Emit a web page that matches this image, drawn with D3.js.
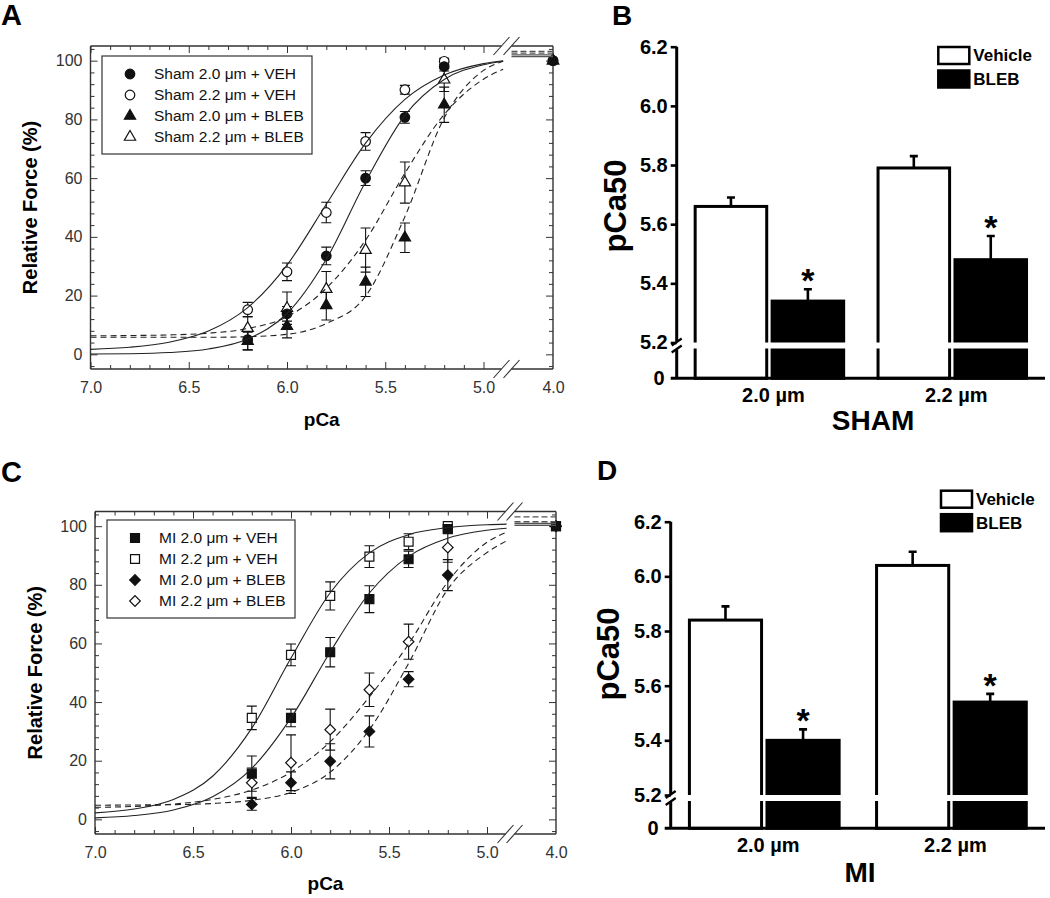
<!DOCTYPE html>
<html>
<head>
<meta charset="utf-8">
<title>Relative force and pCa50</title>
<script src="https://cdn.jsdelivr.net/npm/d3@7"></script>
<style>
  body { margin: 0; background: #fff; }
  svg { display: block; font-family: "Liberation Sans", Arial, sans-serif; }
</style>
</head>
<body>
<svg id="figure" width="1050" height="898"></svg>
<script>
// ---- data ----
const pCaLevels = [6.2, 6.0, 5.8, 5.6, 5.4, 5.2, 4.0];

// Panel A: Sham, relative force (%)
const shamVeh20 = [5, 13.8, 33.5, 60, 80.7, 98, 100];
const shamVeh20Err = [3.5, 2.5, 3, 2.5, 2, 1.5, 0];
const shamVeh22 = [15.2, 28.1, 48.3, 72.5, 90.1, 99.8, 100];
const shamVeh22Err = [2.5, 3, 3.5, 3, 1.5, 1, 0];
const shamBleb20 = [4.5, 9.6, 16.7, 24.7, 39.7, 85, 100];
const shamBleb20Err = [3, 4, 5, 5, 5, 6, 0];
const shamBleb22 = [8.9, 15.7, 22.2, 35.5, 58.5, 93.5, 100];
const shamBleb22Err = [4, 5.5, 6, 7.5, 7, 4, 0];

// Panel C: MI, relative force (%)
const miVeh20 = [15.6, 34.6, 57, 75.1, 88.7, 99, 100];
const miVeh20Err = [6, 3, 5, 4.6, 2.8, 1, 0];
const miVeh22 = [34.6, 56.1, 76.2, 89.6, 94.7, 100, 100];
const miVeh22Err = [4, 3.7, 4.8, 3.7, 2.7, 0.5, 0];
const miBleb20 = [5.1, 12.5, 19.8, 30, 47.8, 83.3, 100];
const miBleb20Err = [2, 3.7, 6, 5.3, 2.6, 5.3, 0];
const miBleb22 = [12.5, 19.3, 30.6, 44.2, 60.6, 92.7, 100];
const miBleb22Err = [5, 9.5, 7, 5.7, 6, 5, 0];

// fitted curves as drawn in the figure
const fitPCa = [7.0, 6.8, 6.6, 6.4, 6.2, 6.0, 5.8, 5.6, 5.4, 5.2, 5.0, 4.9];
const shamVeh20Fit = [0.1, 0.2, 0.6, 1.8, 5.2, 13.9, 32.4, 58.8, 81.4, 93.6, 98.6, 99.8];
const shamVeh22Fit = [1.7, 2.4, 4.1, 7.9, 15.9, 30.4, 51.1, 71.9, 86.8, 95.1, 99.0, 100.0];
const shamBleb20Fit = [5.8, 5.8, 5.8, 5.8, 6.0, 6.8, 10.5, 19.8, 46.9, 80.5, 96.7, 99.8];
const shamBleb22Fit = [6.3, 6.4, 6.6, 7.2, 8.8, 12.8, 22.5, 38.9, 61.7, 81.7, 93.7, 97.1];
const miVeh20Fit = [0.5, 1.3, 3.2, 7.7, 17.4, 34.6, 57.1, 77.2, 89.7, 95.9, 98.6, 99.3];
const miVeh22Fit = [2.2, 3.5, 6.8, 14.7, 31.1, 55.0, 77.3, 90.9, 97.1, 99.5, 100.5, 100.7];
const miBleb20Fit = [4.8, 4.9, 5.0, 5.4, 6.5, 9.2, 16.1, 30.6, 53.2, 78.5, 91.0, 95.0];
const miBleb22Fit = [4.1, 4.4, 5.2, 6.8, 10.0, 16.1, 26.5, 41.8, 59.8, 81.0, 94.5, 98.0];
// level of each fit after the axis break (pCa 4.8 -> 4.0): veh20, veh22, bleb20, bleb22
const shamPlateau = [101.4, 102.0, 102.6, 103.2];
const miPlateau = [100.3, 100.9, 101.5, 103.2];

// Panels B and D: pCa50
const sizeGroups = ['2.0 µm', '2.2 µm'];
const treatments = ['Vehicle', 'BLEB'];
const shamVehiclePCa50 = [5.66, 5.79];
const shamVehicleErr = [0.03, 0.04];
const shamBlebPCa50 = [5.34, 5.48];
const shamBlebErr = [0.04, 0.08];
const miVehiclePCa50 = [5.84, 6.04];
const miVehicleErr = [0.05, 0.05];
const miBlebPCa50 = [5.40, 5.54];
const miBlebErr = [0.04, 0.03];
const pCa50Ticks = [5.2, 5.4, 5.6, 5.8, 6.0, 6.2];

const svg = d3.select('#figure');

const symbolPaths = {
    circle: d3.symbol(d3.symbolCircle, 72)(),
    triangle: d3.symbol(d3.symbolTriangle, 55)(),
    square: d3.symbol(d3.symbolSquare, 80)(),
    diamond: d3.symbol(d3.symbolSquare, 56)()
};

function addSymbol(sel, shape, filled) {
    return sel.append('path')
        .attr('d', symbolPaths[shape])
        .attr('fill', filled ? '#111' : '#fff')
        .attr('stroke', '#111')
        .attr('stroke-width', 1.2);
}

function symbolTransform(shape, x, y) {
    return shape === 'diamond' ? `translate(${x},${y}) rotate(45)` : `translate(${x},${y})`;
}

function drawForcePanel(cfg) {
    const g = svg.append('g');
    const x = d3.scaleLinear().domain([7.0, 5.0]).range([cfg.left, cfg.x50]);
    const xHigh = d3.scaleLinear().domain([4.8, 4.0]).range([cfg.brk2, cfg.right]);
    const y = d3.scaleLinear().domain([-5, 105]).range([cfg.bottom, cfg.top]);
    const xp = p => (p > 4.85 ? x(p) : xHigh(p));

    // ticks point inward on all four sides
    const yMajor = d3.range(0, 101, 20);
    const yMinor = d3.range(-4, 105, 4).filter(v => v % 20 !== 0);
    const xAll = d3.range(0, 21).map(i => +(7 - i * 0.1).toFixed(1));
    const xMajor = xAll.filter((v, i) => i % 5 === 0);
    const xMinor = xAll.filter((v, i) => i % 5 !== 0);
    const fmt = d3.format('.1f');

    const axes = g.append('g').attr('color', '#333');
    const addAxis = (axis, tx, ty) => axes.append('g')
        .attr('transform', `translate(${tx},${ty})`)
        .call(axis)
        .call(a => a.select('.domain').remove())
        .attr('font-size', 16)
        .attr('font-family', null);

    addAxis(d3.axisLeft(y).tickValues(yMinor).tickSize(-4).tickFormat(''), cfg.left, 0);
    addAxis(d3.axisLeft(y).tickValues(yMajor).tickSize(-7).tickPadding(8), cfg.left, 0);
    addAxis(d3.axisRight(y).tickValues(yMinor).tickSize(-4).tickFormat(''), cfg.right, 0);
    addAxis(d3.axisRight(y).tickValues(yMajor).tickSize(-7).tickFormat(''), cfg.right, 0);
    addAxis(d3.axisTop(x).tickValues(xMinor).tickSize(-4).tickFormat(''), 0, cfg.top);
    addAxis(d3.axisTop(x).tickValues(xMajor).tickSize(-7).tickFormat(''), 0, cfg.top);
    addAxis(d3.axisBottom(x).tickValues(xMinor).tickSize(-4).tickFormat(''), 0, cfg.bottom);
    addAxis(d3.axisBottom(x).tickValues(xMajor).tickSize(-7).tickPadding(cfg.xPad).tickFormat(fmt), 0, cfg.bottom);
    addAxis(d3.axisBottom(xHigh).tickValues([4.0]).tickSize(0).tickPadding(cfg.xPad).tickFormat(fmt), 0, cfg.bottom);

    // frame with the broken x axis
    const frame = g.append('g').attr('stroke', '#333').attr('stroke-width', 1.4).attr('fill', 'none');
    frame.append('path').attr('d', `M${cfg.left},${cfg.top}V${cfg.bottom}M${cfg.right},${cfg.top}V${cfg.bottom}`);
    [cfg.top, cfg.bottom].forEach(yy => {
        frame.append('path').attr('d', `M${cfg.left},${yy}H${cfg.brk1}M${cfg.brk2},${yy}H${cfg.right}`);
        [cfg.brk1, cfg.brk2].forEach(bx => {
            frame.append('line')
                .attr('x1', bx - 8).attr('y1', yy + 9)
                .attr('x2', bx + 8).attr('y2', yy - 9)
                .attr('stroke-width', 1.1);
        });
    });

    // error bars
    const errG = g.append('g').attr('stroke', '#111').attr('stroke-width', 1.1);
    cfg.series.forEach(s => {
        pCaLevels.forEach((p, i) => {
            if (!s.err[i]) return;
            const cx = xp(p);
            const lo = y(s.values[i] - s.err[i]);
            const hi = y(s.values[i] + s.err[i]);
            errG.append('path').attr('d', `M${cx},${lo}V${hi}M${cx - 5},${lo}H${cx + 5}M${cx - 5},${hi}H${cx + 5}`);
        });
    });

    // symbols: open ones first, filled on top
    const order = cfg.series.filter(s => !s.filled).concat(cfg.series.filter(s => s.filled));
    order.forEach(s => {
        pCaLevels.forEach((p, i) => {
            addSymbol(g, s.shape, s.filled).attr('transform', symbolTransform(s.shape, xp(p), y(s.values[i])));
        });
    });

    // fitted curves
    const line = d3.line().x(d => x(d[0])).y(d => y(d[1])).curve(d3.curveMonotoneX);
    cfg.series.forEach((s, k) => {
        g.append('path')
            .attr('d', line(fitPCa.map((p, i) => [p, s.fit[i]])))
            .attr('fill', 'none')
            .attr('stroke', '#222')
            .attr('stroke-width', 1.1)
            .attr('stroke-dasharray', s.dashed ? '6,4' : null);
        g.append('line')
            .attr('x1', xHigh(4.8)).attr('x2', xHigh(4.0))
            .attr('y1', y(cfg.plateau[k])).attr('y2', y(cfg.plateau[k]))
            .attr('stroke', '#555')
            .attr('stroke-width', 1.3)
            .attr('stroke-dasharray', s.dashed ? '6,3' : null);
    });

    // legend
    const lg = g.append('g');
    lg.append('rect')
        .attr('x', cfg.legend.x).attr('y', cfg.legend.y)
        .attr('width', cfg.legend.w).attr('height', cfg.legend.h)
        .attr('fill', '#fff').attr('stroke', '#333').attr('stroke-width', 1.2);
    cfg.series.forEach((s, i) => {
        const ry = cfg.legend.y + 18 + i * 21;
        addSymbol(lg, s.shape, s.filled).attr('transform', symbolTransform(s.shape, cfg.legend.x + 28, ry));
        lg.append('text')
            .attr('x', cfg.legend.x + 52).attr('y', ry).attr('dy', '0.35em')
            .attr('font-size', 15.5).attr('fill', '#111')
            .text(s.label);
    });

    // titles
    g.append('text')
        .attr('transform', `translate(${cfg.yTitleX},${(cfg.top + cfg.bottom) / 2}) rotate(-90)`)
        .attr('text-anchor', 'middle').attr('font-size', 20).attr('font-weight', 'bold')
        .text('Relative Force (%)');
    g.append('text')
        .attr('x', (cfg.left + cfg.right) / 2).attr('y', cfg.xTitleY)
        .attr('text-anchor', 'middle').attr('font-size', 19).attr('font-weight', 'bold')
        .text('pCa');
    g.append('text')
        .attr('x', cfg.letterX).attr('y', cfg.letterY)
        .attr('font-size', 29).attr('font-weight', 'bold')
        .text(cfg.letter);
}

function drawBarPanel(cfg) {
    const g = svg.append('g');
    const y = d3.scaleLinear().domain([5.2, 6.2]).range([cfg.y52, cfg.y62]);
    const x0 = d3.scaleBand().domain(sizeGroups).range([cfg.axisX, cfg.right])
        .paddingInner(cfg.padInner).paddingOuter(cfg.padOuter);
    const x1 = d3.scaleBand().domain(treatments).range([0, x0.bandwidth()]).paddingInner(0.07);

    const rows = [];
    sizeGroups.forEach((s, i) => {
        rows.push({ size: s, treat: 'Vehicle', v: cfg.vehicle[i], e: cfg.vehicleErr[i] });
        rows.push({ size: s, treat: 'BLEB', v: cfg.bleb[i], e: cfg.blebErr[i] });
    });
    const cx = d => x0(d.size) + x1(d.treat) + x1.bandwidth() / 2;

    // error bars (upward only)
    g.append('g').selectAll('path').data(rows).join('path')
        .attr('d', d => `M${cx(d)},${y(d.v)}V${y(d.v + d.e)}M${cx(d) - 4},${y(d.v + d.e)}H${cx(d) + 4}`)
        .attr('stroke', '#000').attr('stroke-width', 2.6).attr('fill', 'none');

    g.append('g').selectAll('rect').data(rows).join('rect')
        .attr('x', d => x0(d.size) + x1(d.treat))
        .attr('y', d => y(d.v))
        .attr('width', x1.bandwidth())
        .attr('height', d => cfg.base - y(d.v))
        .attr('fill', d => (d.treat === 'BLEB' ? '#000' : '#fff'))
        .attr('stroke', '#000')
        .attr('stroke-width', 3);

    // significance marks
    g.append('g').selectAll('text').data(rows.filter(d => d.treat === 'BLEB')).join('text')
        .attr('x', cx).attr('y', d => y(d.v + d.e) + 3)
        .attr('text-anchor', 'middle').attr('font-size', 34).attr('font-weight', 'bold')
        .text('*');

    // axis break band
    g.append('rect')
        .attr('x', cfg.axisX + 3).attr('y', cfg.y52)
        .attr('width', cfg.right - cfg.axisX).attr('height', cfg.gap)
        .attr('fill', '#fff');

    // y axis
    g.append('g')
        .attr('transform', `translate(${cfg.axisX},0)`)
        .call(d3.axisLeft(y).tickValues(pCa50Ticks).tickSize(6).tickPadding(3).tickFormat(d3.format('.1f')))
        .call(a => a.select('.domain').remove())
        .call(a => a.selectAll('line').attr('stroke-width', 2.6))
        .attr('color', '#000')
        .attr('font-size', 20).attr('font-weight', 'bold').attr('font-family', null);

    const ax = g.append('g').attr('stroke', '#000').attr('fill', 'none');
    ax.append('path').attr('stroke-width', 3)
        .attr('d', `M${cfg.axisX},${cfg.y62}V${cfg.y52 - 1}M${cfg.axisX},${cfg.y52 + cfg.gap + 1}V${cfg.base}`);
    [cfg.y52 - 0.5, cfg.y52 + cfg.gap + 0.5].forEach(by => {
        ax.append('line').attr('stroke-width', 2.2)
            .attr('x1', cfg.axisX - 5).attr('y1', by + 3.5)
            .attr('x2', cfg.axisX + 5).attr('y2', by - 3.5);
    });
    ax.append('path').attr('stroke-width', 3)
        .attr('d', `M${cfg.axisX - 6},${cfg.base}H${cfg.right}`);
    g.append('text')
        .attr('x', cfg.axisX - 12).attr('y', cfg.base).attr('dy', '0.35em')
        .attr('text-anchor', 'end').attr('font-size', 20).attr('font-weight', 'bold')
        .text('0');

    // group labels and panel title
    g.append('g').selectAll('text').data(sizeGroups).join('text')
        .attr('x', d => x0(d) + x0.bandwidth() / 2 + 4)
        .attr('y', cfg.groupY)
        .attr('text-anchor', 'middle').attr('font-size', 20).attr('font-weight', 'bold')
        .text(d => d);
    g.append('text')
        .attr('x', cfg.titleX).attr('y', cfg.titleY)
        .attr('text-anchor', 'middle').attr('font-size', 28).attr('font-weight', 'bold')
        .text(cfg.title);
    g.append('text')
        .attr('transform', `translate(${cfg.yTitleX},${cfg.yTitleY}) rotate(-90)`)
        .attr('text-anchor', 'middle').attr('font-size', 31).attr('font-weight', 'bold')
        .text('pCa50');
    g.append('text')
        .attr('x', cfg.letterX).attr('y', cfg.letterY)
        .attr('font-size', 28).attr('font-weight', 'bold')
        .text(cfg.letter);

    // legend
    const lg = g.append('g');
    treatments.forEach((t, i) => {
        const ly = cfg.legY + i * 23.5;
        lg.append('rect')
            .attr('x', cfg.legX).attr('y', ly).attr('width', 31).attr('height', 17)
            .attr('fill', t === 'BLEB' ? '#000' : '#fff')
            .attr('stroke', '#000').attr('stroke-width', 2.5);
        lg.append('text')
            .attr('x', cfg.legX + 35).attr('y', ly + 8.5).attr('dy', '0.35em')
            .attr('font-size', 17).attr('font-weight', 'bold')
            .text(t);
    });
}

drawForcePanel({
    letter: 'A', letterX: 1, letterY: 25,
    left: 90.5, x50: 483.5, brk1: 501.5, brk2: 511.5, right: 553,
    top: 46, bottom: 369, xPad: 12.5,
    yTitleX: 36.7, xTitleY: 426,
    legend: { x: 102, y: 56, w: 210, h: 98 },
    plateau: shamPlateau,
    series: [
        { label: 'Sham 2.0 μm + VEH', values: shamVeh20, err: shamVeh20Err, fit: shamVeh20Fit, shape: 'circle', filled: true, dashed: false },
        { label: 'Sham 2.2 μm + VEH', values: shamVeh22, err: shamVeh22Err, fit: shamVeh22Fit, shape: 'circle', filled: false, dashed: false },
        { label: 'Sham 2.0 μm + BLEB', values: shamBleb20, err: shamBleb20Err, fit: shamBleb20Fit, shape: 'triangle', filled: true, dashed: true },
        { label: 'Sham 2.2 μm + BLEB', values: shamBleb22, err: shamBleb22Err, fit: shamBleb22Fit, shape: 'triangle', filled: false, dashed: true }
    ]
});

drawForcePanel({
    letter: 'C', letterX: 1, letterY: 482,
    left: 95, x50: 487, brk1: 505.5, brk2: 514.5, right: 556,
    top: 511.5, bottom: 834, xPad: 13,
    yTitleX: 41.7, xTitleY: 890,
    legend: { x: 107, y: 520, w: 188, h: 98 },
    plateau: miPlateau,
    series: [
        { label: 'MI 2.0 μm + VEH', values: miVeh20, err: miVeh20Err, fit: miVeh20Fit, shape: 'square', filled: true, dashed: false },
        { label: 'MI 2.2 μm + VEH', values: miVeh22, err: miVeh22Err, fit: miVeh22Fit, shape: 'square', filled: false, dashed: false },
        { label: 'MI 2.0 μm + BLEB', values: miBleb20, err: miBleb20Err, fit: miBleb20Fit, shape: 'diamond', filled: true, dashed: true },
        { label: 'MI 2.2 μm + BLEB', values: miBleb22, err: miBleb22Err, fit: miBleb22Fit, shape: 'diamond', filled: false, dashed: true }
    ]
});

drawBarPanel({
    letter: 'B', letterX: 612, letterY: 25,
    axisX: 676.7, right: 1045, y62: 46.7, y52: 342.5, gap: 6, base: 378.3,
    padInner: 0.188, padOuter: 0.101,
    vehicle: shamVehiclePCa50, vehicleErr: shamVehicleErr,
    bleb: shamBlebPCa50, blebErr: shamBlebErr,
    groupY: 401.7, title: 'SHAM', titleX: 873, titleY: 430,
    yTitleX: 626, yTitleY: 206,
    legX: 938.3, legY: 47
});

drawBarPanel({
    letter: 'D', letterX: 597, letterY: 480,
    axisX: 670.7, right: 1045, y62: 521.7, y52: 795, gap: 6, base: 828.3,
    padInner: 0.2, padOuter: 0.1,
    vehicle: miVehiclePCa50, vehicleErr: miVehicleErr,
    bleb: miBlebPCa50, blebErr: miBlebErr,
    groupY: 851.7, title: 'MI', titleX: 860, titleY: 882,
    yTitleX: 619, yTitleY: 654,
    legX: 941, legY: 490.7
});
</script>
</body>
</html>
